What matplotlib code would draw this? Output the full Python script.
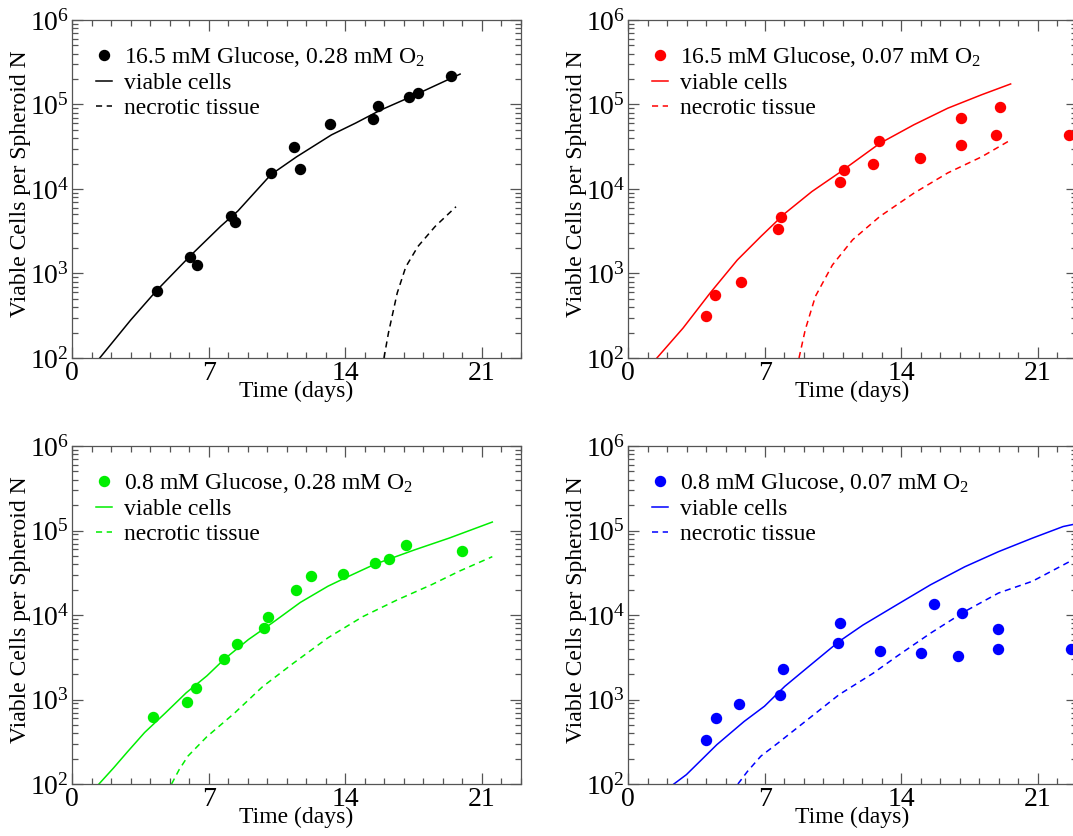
import matplotlib
matplotlib.use('Agg')
from matplotlib import pyplot as plt
from matplotlib.ticker import MultipleLocator, LogLocator, NullFormatter

plt.rcParams['font.family'] = ['Liberation Serif', 'DejaVu Serif']
plt.rcParams['mathtext.fontset'] = 'custom'
plt.rcParams['mathtext.rm'] = 'Liberation Serif'
plt.rcParams['mathtext.it'] = 'Liberation Serif:italic'

# ---- data (days, cells) ----
# 16.5 mM glucose, 0.28 mM O2
hg_ho_day = [4.34, 6.06, 6.40, 8.15, 8.36, 10.19, 11.36, 11.68, 13.22, 15.42, 15.68, 17.28, 17.74, 19.42]
hg_ho_n = [614, 1550, 1268, 4730, 4050, 15400, 31600, 17300, 59400, 67000, 95300, 121800, 135900, 219800]
hg_ho_viable_t = [1.42, 3.01, 4.34, 6.06, 7.62, 8.5, 10.19, 11.5, 13.29, 14.53, 15.77, 17.54, 19.88]
hg_ho_viable = [100, 282, 631, 1620, 3630, 5500, 14800, 24000, 43700, 60300, 85100, 128800, 229000]
hg_ho_necro_t = [15.98, 16.21, 16.66, 17.1, 17.72, 18.6, 19.67]
hg_ho_necro = [100, 198, 589, 1200, 2090, 3600, 6170]

# 16.5 mM glucose, 0.07 mM O2
hg_lo_day = [4.0, 4.47, 5.79, 7.70, 7.86, 10.87, 11.04, 12.55, 12.85, 14.95, 17.04, 17.04, 18.85, 19.05, 22.6]
hg_lo_n = [316, 556, 793, 3320, 4690, 12050, 16560, 20000, 36800, 23300, 69300, 33300, 43200, 94400, 44000]
hg_lo_viable_t = [1.48, 2.82, 4.21, 5.6, 6.81, 8.03, 9.42, 10.81, 12.9, 14.64, 16.38, 18.11, 19.6]
hg_lo_viable = [100, 226, 589, 1445, 2750, 5130, 9330, 15500, 34700, 57500, 90400, 130300, 175000]
hg_lo_necro_t = [8.76, 9.08, 9.6, 10.47, 11.51, 12.9, 14.64, 16.38, 18.11, 19.6]
hg_lo_necro = [100, 216, 537, 1260, 2510, 4730, 8910, 15500, 24000, 38000]

# 0.8 mM glucose, 0.28 mM O2
lg_ho_day = [4.16, 5.90, 6.33, 7.81, 8.44, 9.85, 10.05, 11.47, 12.25, 13.86, 15.51, 16.22, 17.10, 19.99]
lg_ho_n = [625, 925, 1355, 3030, 4520, 6980, 9420, 19950, 28800, 30400, 41000, 45700, 66900, 57300]
lg_ho_viable_t = [1.38, 2.13, 2.84, 3.72, 4.78, 5.85, 6.91, 7.80, 9.04, 10.28, 11.7, 13.11, 14.0, 15.5, 17.54, 19.32, 21.53]
lg_ho_viable = [100, 155, 240, 407, 692, 1200, 1905, 3000, 5130, 8130, 14100, 21900, 27500, 39800, 58900, 81300, 125900]
lg_ho_necro_t = [5.1, 5.49, 5.94, 6.91, 8.33, 9.75, 11.34, 13.11, 14.89, 16.66, 18.43, 19.85, 21.53]
lg_ho_necro = [100, 148, 214, 363, 692, 1410, 2690, 5370, 9550, 15100, 22900, 33100, 49000]

# 0.8 mM glucose, 0.07 mM O2
lg_lo_day = [3.98, 4.50, 5.68, 7.79, 7.93, 10.76, 10.87, 12.9, 15.0, 15.7, 16.92, 17.11, 18.93, 18.93, 22.69]
lg_lo_n = [334, 597, 890, 1127, 2290, 4650, 7950, 3800, 3510, 13400, 3230, 10700, 6920, 3910, 3910]
lg_lo_viable_t = [2.35, 2.99, 3.69, 4.55, 5.95, 6.99, 8.03, 9.25, 10.81, 12.03, 13.77, 15.5, 17.25, 18.98, 20.72, 22.29, 22.77]
lg_lo_viable = [100, 129, 186, 292, 550, 832, 1430, 2450, 4860, 7590, 13200, 22800, 37200, 56200, 81300, 111400, 117500]
lg_lo_necro_t = [5.63, 6.12, 6.81, 7.68, 9.08, 10.81, 12.55, 13.77, 15.5, 17.25, 18.98, 20.72, 22.77]
lg_lo_necro = [100, 141, 214, 305, 550, 1140, 2040, 3240, 6100, 11000, 18200, 25100, 44700]

panels = [
    ('16.5 mM Glucose, 0.28 mM O$_2$', 'black', hg_ho_day, hg_ho_n,
     hg_ho_viable_t, hg_ho_viable, hg_ho_necro_t, hg_ho_necro),
    ('16.5 mM Glucose, 0.07 mM O$_2$', '#ff0000', hg_lo_day, hg_lo_n,
     hg_lo_viable_t, hg_lo_viable, hg_lo_necro_t, hg_lo_necro),
    ('0.8 mM Glucose, 0.28 mM O$_2$', '#00ee00', lg_ho_day, lg_ho_n,
     lg_ho_viable_t, lg_ho_viable, lg_ho_necro_t, lg_ho_necro),
    ('0.8 mM Glucose, 0.07 mM O$_2$', '#0000ff', lg_lo_day, lg_lo_n,
     lg_lo_viable_t, lg_lo_viable, lg_lo_necro_t, lg_lo_necro),
]

W, H = 1073, 836
fig = plt.figure(figsize=(W / 100, H / 100), dpi=100)
# axes boxes in pixels: left, top
boxes = [(72, 20), (628, 20), (72, 446), (628, 446)]
aw, ah = 449, 338

fs = 17
tfs = 20
spine_c = '#555555'
for (lab, c, d, n, vt, v, nt, nv), (bx, by) in zip(panels, boxes):
    ax = fig.add_axes([bx / W, 1 - (by + ah) / H, aw / W, ah / H])
    ax.set_yscale('log')
    ax.plot(d, n, 'o', color=c, markersize=7.2, label=lab)
    ax.plot(vt, v, '-', color=c, linewidth=1.1, label='viable cells')
    ax.plot(nt, nv, '--', color=c, linewidth=1.1, dashes=(4, 3), label='necrotic tissue')
    ax.set_xlim(0, 23)
    ax.set_ylim(1e2, 1e6)
    ax.xaxis.set_major_locator(MultipleLocator(7))
    ax.xaxis.set_minor_locator(MultipleLocator(1))
    ax.yaxis.set_major_locator(LogLocator(base=10))
    ax.yaxis.set_minor_locator(LogLocator(base=10, subs=range(2, 10)))
    ax.yaxis.set_minor_formatter(NullFormatter())
    ax.tick_params(which='both', direction='in', top=True, right=True,
                   color=spine_c, labelsize=tfs, pad=2)
    ax.tick_params(which='major', length=8, width=0.9)
    ax.tick_params(which='minor', length=4, width=0.9)
    for s in ax.spines.values():
        s.set_color(spine_c)
        s.set_linewidth(0.9)
    ax.set_xlabel('Time (days)', fontsize=fs, va='center')
    ax.xaxis.set_label_coords(0.5, -0.10)
    ax.set_ylabel('Viable Cells per Spheroid N', fontsize=fs, va='center')
    ax.yaxis.set_label_coords(-0.114, 0.515)
    ax.legend(loc='upper left', bbox_to_anchor=(0.0, 0.995), frameon=False,
              fontsize=fs, numpoints=1, handlelength=0.7, handletextpad=0.5,
              labelspacing=0.15, borderaxespad=0.6)

fig.savefig('out.png', dpi=100)
